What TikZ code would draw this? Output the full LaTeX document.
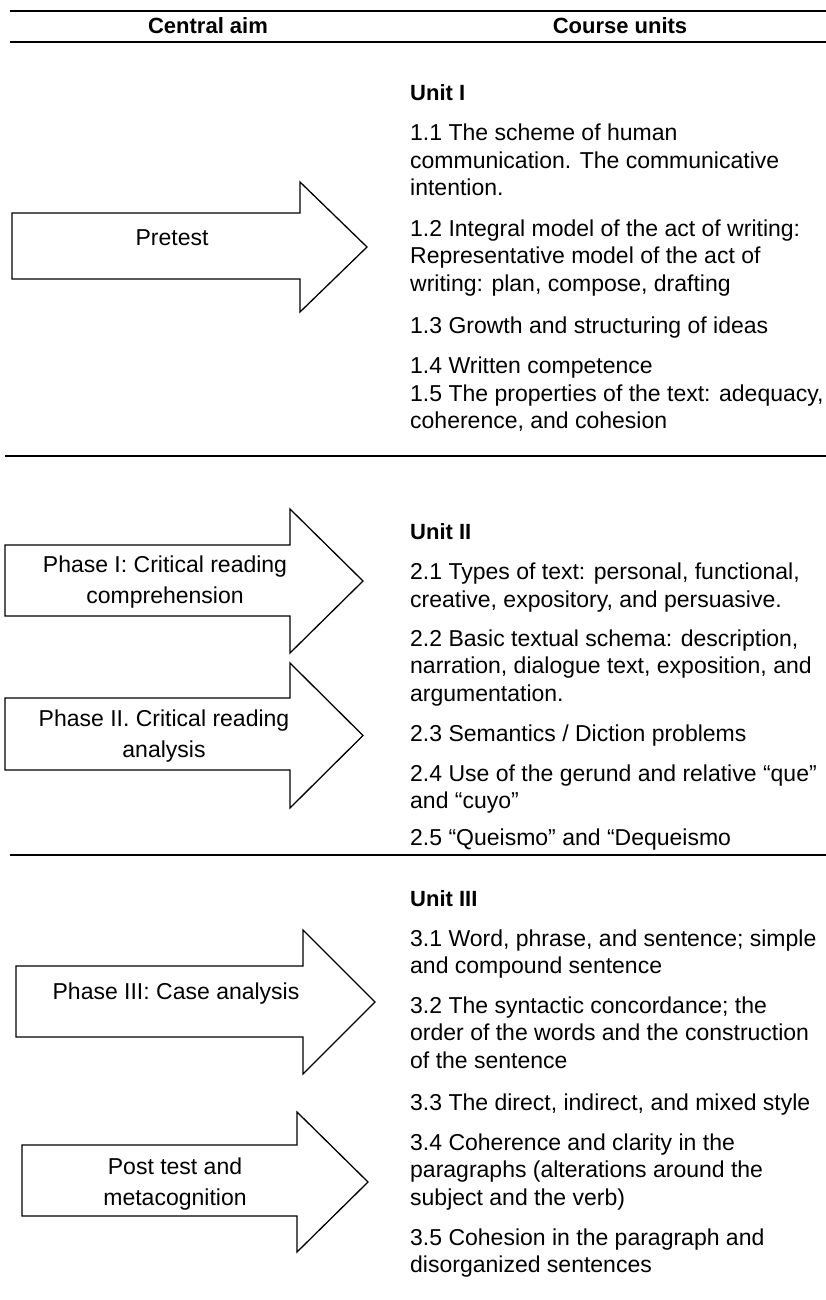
\documentclass[tikz,border=0pt]{standalone}
\usepackage{fontspec}
\setmainfont{Liberation Sans}
\newcommand{\fatarrow}[7]{\draw[arrowline] (#1,#4) -- (#2,#4) -- (#2,#6) -- (#3,{(#6+#7)/2}) -- (#2,#7) -- (#2,#5) -- (#1,#5) -- cycle;}

\tikzset{
  arrowline/.style={line width=1.3pt, line join=miter},
  rule/.style={line width=1.8pt},
  headtext/.style={font=\fontsize{22}{26}\selectfont\bfseries},
  aimtext/.style={align=center, inner sep=0pt, font=\fontsize{23}{31}\selectfont},
  unittext/.style={anchor=base west, inner sep=0pt, font=\fontsize{22}{26}\selectfont\bfseries},
  topictext/.style={anchor=base west, align=left, inner sep=0pt, font=\fontsize{23}{27.5}\selectfont},
}

\begin{document}
\begin{tikzpicture}[x=1pt, y=-1pt]
  \useasboundingbox (0,0) rectangle (826,1300);

  \draw[rule] (10,11) -- (826,11);
  \draw[rule] (10,42) -- (826,42);
  \draw[rule] (5,456) -- (826,456);
  \draw[rule] (10,855) -- (826,855);

  \node[headtext] (aimhead) at (208,26) {Central aim};
  \node[headtext] (unithead) at (620,26) {Course units};

  \fatarrow{12}{300}{367}{213}{279}{182}{312}
  \fatarrow{5}{290}{363}{545}{616}{509}{653}
  \fatarrow{5}{290}{363}{698}{770}{663}{808}
  \fatarrow{16}{303}{375}{966}{1037}{930}{1074}
  \fatarrow{22}{297}{368}{1145}{1216}{1112}{1252}

  \node[aimtext] (pretest) at (172,238) {Pretest};
  \node[aimtext] (phaseone) at (165,582) {Phase I: Critical reading\\comprehension};
  \node[aimtext] (phasetwo) at (164,736) {Phase II. Critical reading\\analysis};
  \node[aimtext] (phasethree) at (176,994) {Phase III: Case analysis};
  \node[aimtext] (posttest) at (175,1184) {Post test and\\metacognition};

  % multi-line topics sit on the baseline of their last line
  \node[unittext] (unitone) at (410,101) {Unit I};
  \node[topictext] (topic11) at (410,196) {1.1 The scheme of human\\communication. The communicative\\intention.};
  \node[topictext] (topic12) at (410,291) {1.2 Integral model of the act of writing:\\Representative model of the act of\\writing: plan, compose, drafting};
  \node[topictext] (topic13) at (410,333) {1.3 Growth and structuring of ideas};
  \node[topictext] (topic14) at (410,373) {1.4 Written competence};
  \node[topictext] (topic15) at (410,428.5) {1.5 The properties of the text: adequacy,\\coherence, and cohesion};

  \node[unittext] (unittwo) at (410,539) {Unit II};
  \node[topictext] (topic21) at (410,607) {2.1 Types of text: personal, functional,\\creative, expository, and persuasive.};
  \node[topictext] (topic22) at (410,701) {2.2 Basic textual schema: description,\\narration, dialogue text, exposition, and\\argumentation.};
  \node[topictext] (topic23) at (410,741) {2.3 Semantics / Diction problems};
  \node[topictext] (topic24) at (410,808.5) {2.4 Use of the gerund and relative “que”\\and “cuyo”};
  \node[topictext] (topic25) at (410,845) {2.5 “Queismo” and “Dequeismo};

  \node[unittext] (unitthree) at (410,906) {Unit III};
  \node[topictext] (topic31) at (410,973.5) {3.1 Word, phrase, and sentence; simple\\and compound sentence};
  \node[topictext] (topic32) at (410,1068) {3.2 The syntactic concordance; the\\order of the words and the construction\\of the sentence};
  \node[topictext] (topic33) at (410,1110) {3.3 The direct, indirect, and mixed style};
  \node[topictext] (topic34) at (410,1205) {3.4 Coherence and clarity in the\\paragraphs (alterations around the\\subject and the verb)};
  \node[topictext] (topic35) at (410,1272.5) {3.5 Cohesion in the paragraph and\\disorganized sentences};
\end{tikzpicture}
\end{document}
